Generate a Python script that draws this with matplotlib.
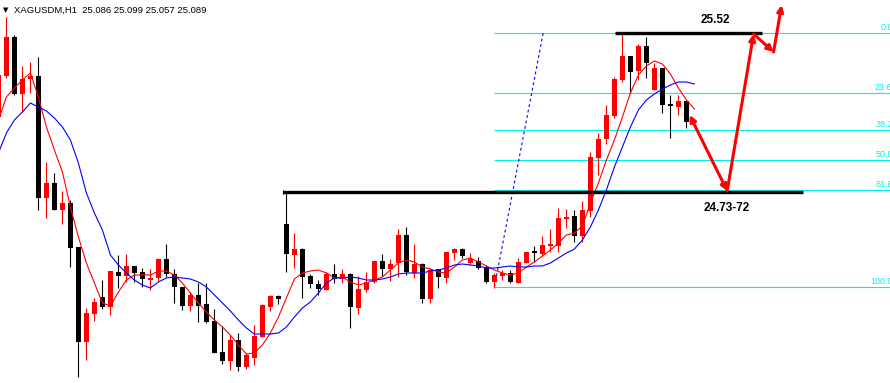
import numpy as np
import matplotlib
matplotlib.use('Agg')
import matplotlib.pyplot as plt

# XAGUSDM H1, bars -1..85
opens = [25.100, 25.305, 25.500, 25.215, 25.290, 25.305, 24.695, 24.770, 24.635, 24.670,
         24.450, 23.975, 24.115, 24.200, 24.150, 24.325, 24.305, 24.355, 24.325, 24.285,
         24.295, 24.390, 24.315, 24.250, 24.155, 24.210, 24.165, 24.080, 23.925, 23.880,
         23.985, 23.850, 23.895, 24.000, 24.150, 24.205, 24.565, 24.410, 24.440, 24.305,
         24.265, 24.235, 24.315, 24.290, 24.315, 24.145, 24.235, 24.275, 24.380, 24.340,
         24.370, 24.510, 24.320, 24.365, 24.190, 24.340, 24.295, 24.420, 24.440, 24.370,
         24.380, 24.350, 24.275, 24.305, 24.320, 24.270, 24.370, 24.430, 24.415, 24.455,
         24.455, 24.590, 24.605, 24.505, 24.630, 24.895, 24.990, 25.105, 25.285, 25.405,
         25.330, 25.455, 25.235, 25.345, 25.165, 25.150, 25.180]
highs = [25.335, 25.600, 25.510, 25.355, 25.375, 25.400, 24.875, 24.820, 24.730, 24.685,
         24.450, 24.145, 24.195, 24.285, 24.330, 24.410, 24.415, 24.355, 24.345, 24.340,
         24.395, 24.465, 24.340, 24.250, 24.225, 24.270, 24.270, 24.140, 24.055, 24.010,
         24.020, 23.920, 24.060, 24.165, 24.210, 24.210, 24.720, 24.520, 24.445, 24.315,
         24.285, 24.325, 24.365, 24.340, 24.320, 24.305, 24.325, 24.380, 24.415, 24.390,
         24.540, 24.550, 24.465, 24.370, 24.345, 24.340, 24.425, 24.445, 24.445, 24.420,
         24.400, 24.360, 24.320, 24.335, 24.335, 24.395, 24.425, 24.455, 24.505, 24.540,
         24.645, 24.640, 24.635, 24.680, 24.925, 25.020, 25.160, 25.300, 25.520, 25.405,
         25.465, 25.500, 25.370, 25.345, 25.210, 25.210, 25.185]
lows = [25.085, 25.295, 25.210, 25.125, 25.220, 24.635, 24.595, 24.635, 24.565, 24.350,
        23.800, 23.885, 24.080, 24.140, 24.110, 24.245, 24.275, 24.275, 24.250, 24.235,
        24.280, 24.300, 24.170, 24.135, 24.130, 24.075, 24.070, 23.920, 23.865, 23.835,
        23.830, 23.840, 23.860, 24.000, 24.130, 24.165, 24.325, 24.345, 24.195, 24.245,
        24.210, 24.235, 24.270, 24.270, 24.045, 24.115, 24.225, 24.270, 24.305, 24.280,
        24.300, 24.310, 24.295, 24.170, 24.170, 24.245, 24.270, 24.385, 24.395, 24.360,
        24.340, 24.270, 24.245, 24.285, 24.270, 24.270, 24.370, 24.375, 24.405, 24.425,
        24.425, 24.545, 24.475, 24.475, 24.600, 24.810, 24.965, 25.095, 25.275, 25.220,
        25.285, 25.295, 25.235, 25.120, 24.995, 25.110, 25.045]
closes = [25.310, 25.500, 25.215, 25.290, 25.305, 24.695, 24.770, 24.635, 24.670, 24.445,
          23.975, 24.120, 24.175, 24.150, 24.330, 24.305, 24.355, 24.320, 24.290, 24.295,
          24.390, 24.315, 24.250, 24.155, 24.210, 24.155, 24.075, 23.920, 23.880, 23.985,
          23.850, 23.910, 24.005, 24.160, 24.205, 24.190, 24.415, 24.440, 24.300, 24.265,
          24.240, 24.315, 24.290, 24.315, 24.150, 24.240, 24.275, 24.380, 24.340, 24.365,
          24.510, 24.325, 24.365, 24.190, 24.335, 24.300, 24.425, 24.440, 24.405, 24.390,
          24.345, 24.275, 24.310, 24.320, 24.275, 24.375, 24.425, 24.420, 24.460, 24.465,
          24.595, 24.600, 24.505, 24.635, 24.900, 24.990, 25.110, 25.290, 25.405, 25.325,
          25.455, 25.370, 25.345, 25.160, 25.155, 25.180, 25.075]

# moving averages, bars -1..86
ma_fast = [25.085, 25.200, 25.245, 25.285, 25.320, 25.200, 25.050, 24.935, 24.825, 24.650,
           24.500, 24.370, 24.270, 24.170, 24.155, 24.225, 24.285, 24.310, 24.310, 24.310,
           24.330, 24.330, 24.310, 24.270, 24.220, 24.170, 24.125, 24.085, 24.050, 24.010,
           23.960, 23.915, 23.920, 23.960, 24.020, 24.100, 24.195, 24.290, 24.320, 24.330,
           24.335, 24.320, 24.295, 24.300, 24.275, 24.260, 24.270, 24.285, 24.300, 24.335,
           24.370, 24.385, 24.375, 24.350, 24.340, 24.325, 24.320, 24.350, 24.385, 24.395,
           24.375, 24.355, 24.335, 24.320, 24.310, 24.320, 24.350, 24.375, 24.405, 24.435,
           24.470, 24.510, 24.520, 24.555, 24.670, 24.770, 24.885, 24.985, 25.100, 25.220,
           25.310, 25.355, 25.380, 25.365, 25.315, 25.245, 25.185, 25.140]
ma_slow = [24.920, 25.020, 25.085, 25.125, 25.170, 25.150, 25.130, 25.095, 25.050, 24.985,
           24.870, 24.720, 24.620, 24.535, 24.410, 24.360, 24.320, 24.285, 24.260, 24.245,
           24.275, 24.295, 24.300, 24.295, 24.290, 24.275, 24.250, 24.210, 24.170, 24.130,
           24.085, 24.045, 24.015, 24.015, 24.015, 24.020, 24.050, 24.100, 24.145, 24.175,
           24.220, 24.270, 24.295, 24.295, 24.300, 24.295, 24.285, 24.285, 24.290, 24.300,
           24.315, 24.320, 24.320, 24.320, 24.330, 24.335, 24.345, 24.360, 24.365, 24.360,
           24.355, 24.345, 24.345, 24.350, 24.355, 24.350, 24.350, 24.355, 24.355, 24.370,
           24.395, 24.420, 24.440, 24.485, 24.550, 24.635, 24.735, 24.850, 24.950, 25.050,
           25.135, 25.185, 25.215, 25.240, 25.260, 25.275, 25.275, 25.265]

# fibonacci retracement
fib_levels = [0.0, 23.6, 38.2, 50.0, 61.8, 100.0]
fib_high = 25.52
fib_low = 24.25
fib_start = 61
fib_end = 67.1

# drawn levels and forecast path
resist = 25.52
support = 24.725
path_x = [85.4, 90.1, 93.4, 95.9, 96.9]
path_y = [25.11, 24.73, 25.515, 25.425, 25.66]

RED = '#ff0000'
CYAN = '#00f0f0'

fig = plt.figure(figsize=(8.9, 3.83), dpi=100)
ax = fig.add_axes([0, 0, 1, 1])
ax.set_xlim(-0.8, 110.45)
ax.set_ylim(23.77, 25.685)
ax.axis('off')

idx = np.arange(-1, len(opens) - 1)
o = np.array(opens)
c = np.array(closes)
cols = [RED if cc >= oo else 'black' for oo, cc in zip(o, c)]
bottoms = np.minimum(o, c)
heights = np.maximum(np.abs(c - o), 0.006)
ax.vlines(idx, lows, highs, colors=cols, lw=0.8, zorder=3)
ax.bar(idx, heights, bottom=bottoms, width=0.62, color=cols, zorder=4, antialiased=False)

mx = np.arange(-1, len(ma_fast) - 1)
ax.plot(mx, ma_fast, color=RED, lw=0.8, zorder=5)
ax.plot(mx, ma_slow, color='#0000ff', lw=0.8, zorder=5)

# fib
span = fib_high - fib_low
for lvl in fib_levels:
    p = fib_high - lvl / 100 * span
    ax.hlines(p, fib_start, 111, color=CYAN, lw=0.8, zorder=2)
    ax.text(1.003, p + 0.004, '%.1f' % lvl, transform=ax.get_yaxis_transform(),
            ha='right', va='bottom', color=CYAN, fontsize=6.5, family='Liberation Sans')
ax.vlines(fib_start, fib_low, fib_low + 0.05, color=CYAN, lw=0.8, zorder=2)
ax.plot([fib_start, fib_end], [fib_low, fib_high], color='#0000ff', lw=0.8,
        ls=(0, (2.5, 2.5)), zorder=2)

# horizontal levels
ax.hlines(resist, 76.1, 94.4, color='black', lw=2.4, zorder=6)
ax.hlines(support, 34.6, 99.6, color='black', lw=2.4, zorder=6)
ax.vlines(34.6, support - 0.012, support + 0.012, color='black', lw=0.8, zorder=6)
ax.text(88.6, 25.585, '25.52', ha='center', va='center', fontsize=8.5,
        fontweight='bold', family='Liberation Sans')
ax.text(90.1, 24.645, '24.73-72', ha='center', va='center', fontsize=8.5,
        fontweight='bold', family='Liberation Sans')

# forecast arrows
for i in range(len(path_x) - 1):
    style = '<|-|>' if i == 0 else '-|>'
    ax.annotate('', xy=(path_x[i + 1], path_y[i + 1]), xytext=(path_x[i], path_y[i]),
                arrowprops=dict(arrowstyle=style, color=RED, lw=2.2, mutation_scale=9,
                                shrinkA=0, shrinkB=0), zorder=7)

# header
fig.text(3 / 890, 1 - 10 / 383, '\u25bc', fontsize=5, va='center', family='DejaVu Sans')
fig.text(14 / 890, 1 - 10 / 383, 'XAGUSDM,H1  25.086 25.099 25.057 25.089',
         fontsize=6.8, va='center', family=['Liberation Sans', 'DejaVu Sans'])

fig.savefig('out.png', dpi=100, facecolor='white')
